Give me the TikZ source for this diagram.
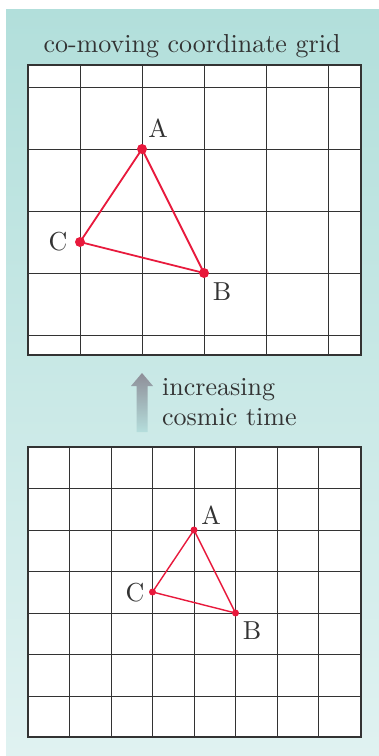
\documentclass[tikz,border=0pt]{standalone}
\usepackage{fontspec}
\setmainfont{lmroman10-regular.otf}
\definecolor{bgtop}{HTML}{B2DFDB}
\definecolor{bgbot}{HTML}{E0F2F1}
\definecolor{ptred}{HTML}{E8193C}
\definecolor{gridc}{HTML}{333333}
\definecolor{txt}{HTML}{333333}
\definecolor{arrtop}{HTML}{8E8E98}
\definecolor{arrbot}{HTML}{B5DEDC}
\tikzset{
  gridline/.style={draw=gridc, line width=0.9pt},
  frame/.style={draw=gridc, line width=1.2pt},
  tri/.style={draw=ptred, line width=1.8pt, line join=round},
  trismall/.style={draw=ptred, line width=1.4pt, line join=round},
  lbl/.style={text=txt, font=\fontsize{26}{30}\selectfont, inner sep=0pt},
}
\begin{document}
\begin{tikzpicture}[x=1pt,y=-1pt]
\useasboundingbox (0,0) rectangle (379,756);
% background
\fill[top color=bgtop, bottom color=bgbot] (6,9) rectangle (379,756);
% title
\node[lbl, anchor=base] (title) at (192,52) {co-moving coordinate grid};
% top grid
\fill[white] (28,65) rectangle (361,355);
\begin{scope}
\clip (28,65) rectangle (361,355);
\foreach \x in {18,80,142,204,266,328}
  \draw[gridline] (\x,60) -- (\x,360);
\foreach \y in {87,149,211,273,335}
  \draw[gridline] (20,\y) -- (370,\y);
\end{scope}
\draw[frame] (28,65) rectangle (361,355);
\coordinate (A1) at (142,149);
\coordinate (B1) at (204,273);
\coordinate (C1) at (80,242);
\draw[tri] (A1) -- (B1) -- (C1) -- cycle;
\foreach \p in {A1,B1,C1} \fill[ptred] (\p) circle (5);
\node[lbl] (la1) at (158,128) {A};
\node[lbl] (lb1) at (222,292) {B};
\node[lbl] (lc1) at (58,242) {C};
% arrow
\shade[top color=arrtop, bottom color=arrbot]
  (142,373) -- (153,386) -- (147.5,386) -- (147.5,432) -- (136.5,432) -- (136.5,386) -- (131,386) -- cycle;
\node[lbl, anchor=base west, align=left] (time) at (162,425) {increasing\\cosmic time};
% bottom grid
\fill[white] (28,447) rectangle (361,737);
\begin{scope}
\clip (28,447) rectangle (361,737);
\foreach \x in {69.5,111,152.5,194,235.5,277,318.5}
  \draw[gridline] (\x,440) -- (\x,745);
\foreach \y in {488.5,530,571.5,613,654.5,696}
  \draw[gridline] (20,\y) -- (370,\y);
\end{scope}
\draw[frame] (28,447) rectangle (361,737);
\coordinate (A2) at (194,530);
\coordinate (B2) at (235.5,613);
\coordinate (C2) at (152.5,592);
\draw[trismall] (A2) -- (B2) -- (C2) -- cycle;
\foreach \p in {A2,B2,C2} \fill[ptred] (\p) circle (3.5);
\node[lbl] (la2) at (211,515) {A};
\node[lbl] (lb2) at (252,631) {B};
\node[lbl] (lc2) at (135,593) {C};
\end{tikzpicture}
\end{document}
